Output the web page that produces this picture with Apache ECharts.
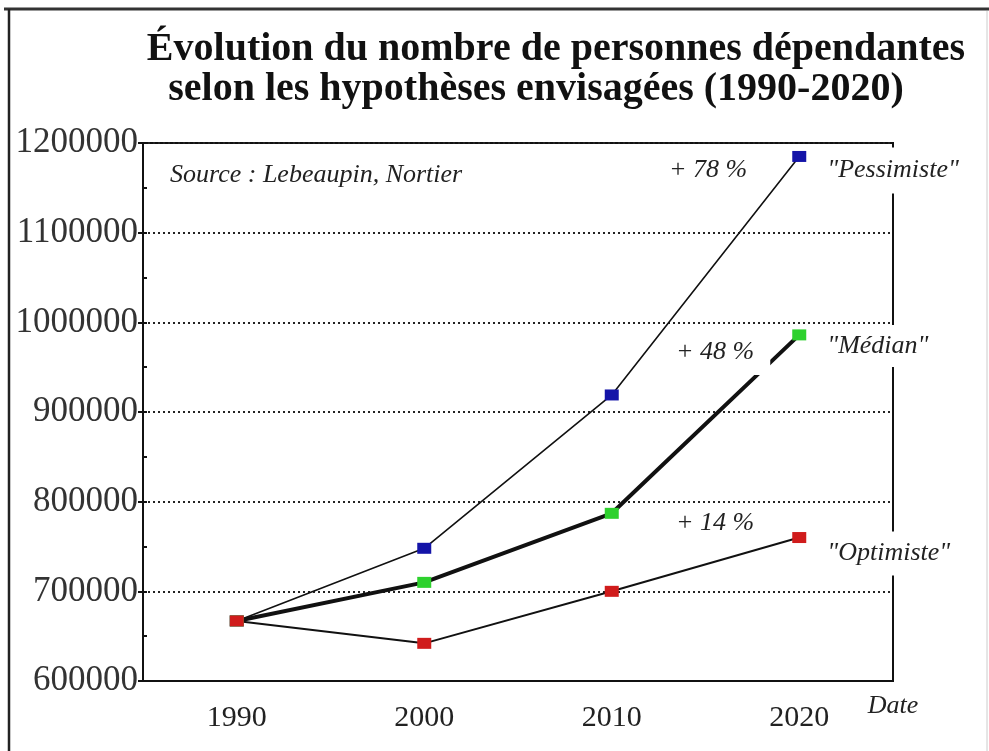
<!DOCTYPE html>
<html>
<head>
<meta charset="utf-8">
<script src="https://cdn.jsdelivr.net/npm/echarts@6/dist/echarts.min.js"></script>
<style>
  html, body { margin: 0; padding: 0; background: #fff; }
  #chartsDom { width: 989px; height: 751px; }
</style>
</head>
<body>
<div id="chartsDom"></div>
<script>
/* données */
const years = ['1990', '2000', '2010', '2020'];
const pessimiste = [667000, 748000, 919000, 1185000];
const median = [667000, 710000, 787000, 986000];
const optimiste = [667000, 642000, 700000, 760000];
const scenarioNames = ['"Pessimiste"', '"Médian"', '"Optimiste"'];
const pctLabels = ['+ 78 %', '+ 48 %', '+ 14 %'];

const serif = 'Liberation Serif';
const txt = '#222';

/* une série = une hypothèse */
function makeSeries(values, idx, color, width, pct, name) {
  const data = values.map((v, i) => {
    if (i !== values.length - 1) return v;
    return {
      value: v,
      label: {
        show: true,
        position: 'left',
        distance: pct.distance,
        offset: [0, pct.dy],
        formatter: pctLabels[idx],
        fontFamily: serif,
        fontStyle: 'italic',
        fontSize: 26,
        color: txt,
        backgroundColor: '#fff',
        padding: pct.pad
      }
    };
  });
  return {
    name: scenarioNames[idx],
    type: 'line',
    data: data,
    symbol: 'rect',
    symbolSize: [14, 11],
    showSymbol: true,
    itemStyle: { color: color, borderWidth: 0 },
    lineStyle: { color: '#111', width: width },
    endLabel: {
      show: true,
      distance: 20,
      offset: [0, name.dy],
      formatter: scenarioNames[idx],
      fontFamily: serif,
      fontStyle: 'italic',
      fontSize: 26,
      color: txt,
      backgroundColor: '#fff',
      padding: name.pad
    },
    animation: false
  };
}

const chartsDom = echarts.init(document.getElementById('chartsDom'));
let option = {
  backgroundColor: '#fff',
  animation: false,
  title: [
    {
      text: 'Évolution du nombre de personnes dépendantes',
      left: 551, top: 25, textAlign: 'center',
      textStyle: { fontFamily: serif, fontWeight: 'bold', fontSize: 40, color: '#111' }
    },
    {
      text: 'selon les hypothèses envisagées (1990-2020)',
      left: 531, top: 65, textAlign: 'center',
      textStyle: { fontFamily: serif, fontWeight: 'bold', fontSize: 40, color: '#111' }
    },
    {
      text: 'Source : Lebeaupin, Nortier',
      left: 165, top: 157,
      textStyle: { fontFamily: serif, fontStyle: 'italic', fontWeight: 'normal', fontSize: 26, color: txt }
    }
  ],
  grid: {
    left: 143, right: 96, top: 143, bottom: 70,
    outerBoundsMode: 'none',
    containLabel: false,
    show: true,
    borderColor: '#111',
    borderWidth: 2
  },
  xAxis: {
    type: 'category',
    data: years,
    boundaryGap: true,
    name: 'Date',
    nameLocation: 'end',
    nameGap: 0,
    nameTextStyle: {
      fontFamily: serif, fontStyle: 'italic', fontSize: 26, color: txt,
      align: 'center', verticalAlign: 'top', padding: [12, 0, 0, 0]
    },
    axisLine: { lineStyle: { color: '#111', width: 2 } },
    axisTick: { alignWithLabel: true, inside: true, length: 8, lineStyle: { color: '#111', width: 2 } },
    axisLabel: { fontFamily: serif, fontSize: 30, color: txt, margin: 22 },
    splitLine: { show: false }
  },
  yAxis: [
    {
      type: 'value',
      min: 600000,
      max: 1200000,
      interval: 100000,
      axisLine: { show: true, lineStyle: { color: '#111', width: 2 } },
      axisTick: { show: true, length: 5, lineStyle: { color: '#111', width: 2 } },
      axisLabel: { fontFamily: serif, fontSize: 35, color: '#333', margin: 5, formatter: v => String(v) },
      splitLine: { show: true, lineStyle: { color: '#222', width: 2, type: [2, 3] } }
    },
    {
      /* petites graduations intérieures */
      type: 'value',
      position: 'left',
      min: 600000,
      max: 1200000,
      interval: 50000,
      axisLine: { show: false },
      axisTick: { show: true, inside: true, length: 4, lineStyle: { color: '#111', width: 2 } },
      axisLabel: { show: false },
      splitLine: { show: false }
    }
  ],
  graphic: [
    { type: 'line', shape: { x1: 4, y1: 9, x2: 989, y2: 9 }, style: { stroke: '#333', lineWidth: 3 } },
    { type: 'line', shape: { x1: 9, y1: 9, x2: 9, y2: 751 }, style: { stroke: '#222', lineWidth: 2.5 } },
    { type: 'line', shape: { x1: 987, y1: 11, x2: 987, y2: 751 }, style: { stroke: '#ccc', lineWidth: 1 } }
  ],
  series: [
    makeSeries(pessimiste, 0, '#1414a8', 1.6,
      { distance: 33, dy: 14, pad: [8, 12, 8, 6] }, { dy: 14, pad: [10, 8, 10, 8] }),
    makeSeries(median, 1, '#2ed12e', 4,
      { distance: 22, dy: 17, pad: [6, 16, 14, 4] }, { dy: 11, pad: [2, 8, 14, 8] }),
    makeSeries(optimiste, 2, '#d01c1c', 2,
      { distance: 24, dy: -14, pad: [6, 14, 8, 6] }, { dy: 16, pad: [8, 8, 10, 8] })
  ]
};
/* rendu */
option && chartsDom.setOption(option);
</script>
</body>
</html>
